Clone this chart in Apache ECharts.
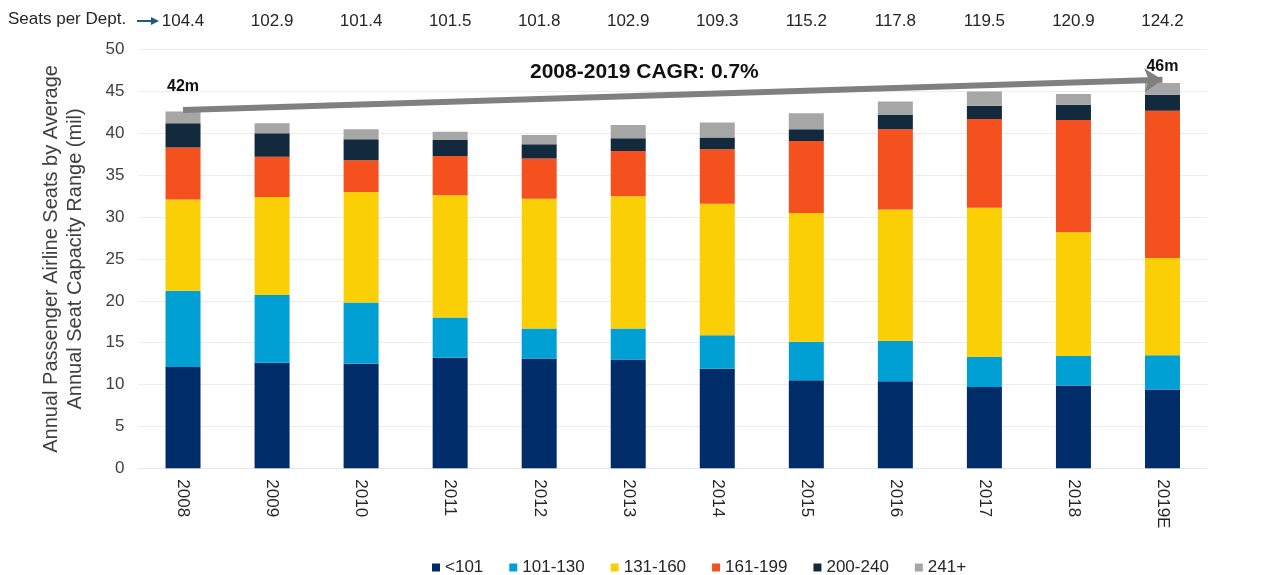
<!DOCTYPE html>
<html>
<head>
<meta charset="utf-8">
<script src="https://cdn.jsdelivr.net/npm/echarts@6/dist/echarts.min.js"></script>
<style>
  html, body { margin: 0; padding: 0; background: #fff; }
  #chart { width: 1268px; height: 575px; }
</style>
</head>
<body>
<div id="chart"></div>
<script>
const years = ['2008', '2009', '2010', '2011', '2012', '2013', '2014', '2015', '2016', '2017', '2018', '2019E'];
const seatsPerDept = ['104.4', '102.9', '101.4', '101.5', '101.8', '102.9', '109.3', '115.2', '117.8', '119.5', '120.9', '124.2'];

// seats (mil) per capacity range, bottom to top
const lt101   = [12.1, 12.6, 12.5, 13.2, 13.1, 13.0, 11.9, 10.5, 10.4, 9.7, 9.9, 9.4];
const r101130 = [9.1, 8.1, 7.3, 4.8, 3.6, 3.7, 4.0, 4.6, 4.8, 3.6, 3.5, 4.1];
const r131160 = [10.9, 11.7, 13.2, 14.6, 15.5, 15.8, 15.7, 15.4, 15.7, 17.8, 14.8, 11.6];
const r161199 = [6.2, 4.8, 3.8, 4.7, 4.8, 5.4, 6.5, 8.6, 9.6, 10.6, 13.4, 17.6];
const r200240 = [2.9, 2.8, 2.5, 1.9, 1.7, 1.5, 1.4, 1.4, 1.7, 1.6, 1.8, 1.9];
const r241    = [1.4, 1.2, 1.2, 1.0, 1.1, 1.6, 1.8, 1.9, 1.6, 1.7, 1.3, 1.4];

const rangeNames = ['<101', '101-130', '131-160', '161-199', '200-240', '241+'];
const rangeColors = ['#002c69', '#00a0d4', '#fbcf06', '#f5511e', '#13293d', '#a6a6a6'];
const rangeData = [lt101, r101130, r131160, r161199, r200240, r241];

// CAGR arrow ends and total labels (in axis units)
const arrowStart = ['2008', 42.8];
const arrowEnd = ['2019E', 46.4];
const totalLabels = [
  { coord: ['2008', 45.6], value: '42m' },
  { coord: ['2019E', 48.0], value: '46m' }
];
const cagrText = '2008-2019 CAGR: 0.7%';

const font = '"Liberation Sans", Arial, sans-serif';

const chart = echarts.init(document.getElementById('chart'));

const series = rangeNames.map((name, i) => ({
  name,
  type: 'bar',
  stack: 'total',
  barWidth: 35,
  itemStyle: { color: rangeColors[i] },
  data: rangeData[i],
  animation: false
}));

// arrow + total labels hang off the top series
series[5].markLine = {
  silent: true,
  symbol: ['none', 'arrow'],
  symbolSize: 18,
  label: { show: false },
  lineStyle: { color: '#808080', width: 6, type: 'solid' },
  data: [[{ coord: arrowStart }, { coord: arrowEnd }]]
};
series[5].markPoint = {
  silent: true,
  symbol: 'rect',
  symbolSize: 0,
  label: {
    show: true,
    position: 'inside',
    formatter: '{c}',
    fontFamily: font,
    fontWeight: 'bold',
    fontSize: 16,
    color: '#111'
  },
  data: totalLabels
};

chart.setOption({
  backgroundColor: '#fff',
  textStyle: { fontFamily: font },
  grid: { left: 138.5, right: 61, top: 49.6, bottom: 106.7 },
  legend: {
    top: 554,
    left: 427,
    icon: 'rect',
    itemWidth: 8,
    itemHeight: 8,
    itemGap: 26,
    textStyle: { fontSize: 17, color: '#262626', fontFamily: font },
    data: rangeNames
  },
  graphic: [
    {
      type: 'text',
      left: 8,
      top: 11,
      style: { text: 'Seats per Dept.', fontSize: 17, fill: '#262626', fontFamily: font }
    },
    {
      type: 'line',
      shape: { x1: 137, y1: 21, x2: 153, y2: 21 },
      style: { stroke: '#1f5a80', lineWidth: 2 }
    },
    {
      type: 'polygon',
      shape: { points: [[151, 17], [159, 21], [151, 25]] },
      style: { fill: '#1f5a80' }
    },
    {
      type: 'text',
      left: 530,
      top: 62,
      style: { text: cagrText, fontSize: 21, fontWeight: 'bold', fill: '#111', fontFamily: font }
    }
  ],
  xAxis: [
    {
      type: 'category',
      data: years,
      axisLine: { lineStyle: { color: '#e6e6e6' } },
      axisTick: { show: false },
      axisLabel: { rotate: -90, fontSize: 17, color: '#262626', margin: 11 }
    },
    {
      type: 'category',
      position: 'top',
      data: seatsPerDept,
      axisLine: { show: false },
      axisTick: { show: false },
      axisLabel: { fontSize: 17, color: '#262626', margin: 20 }
    }
  ],
  yAxis: {
    type: 'value',
    min: 0,
    max: 50,
    interval: 5,
    name: 'Annual Passenger Airline Seats by Average\nAnnual Seat Capacity Range (mil)',
    nameLocation: 'middle',
    nameGap: 51,
    nameTextStyle: { fontSize: 20, color: '#404040', lineHeight: 24, fontFamily: font },
    axisLine: { show: false },
    axisTick: { show: false },
    axisLabel: { fontSize: 17, color: '#404040', margin: 14 },
    splitLine: { lineStyle: { color: '#ececec' } }
  },
  series
});
</script>
</body>
</html>
